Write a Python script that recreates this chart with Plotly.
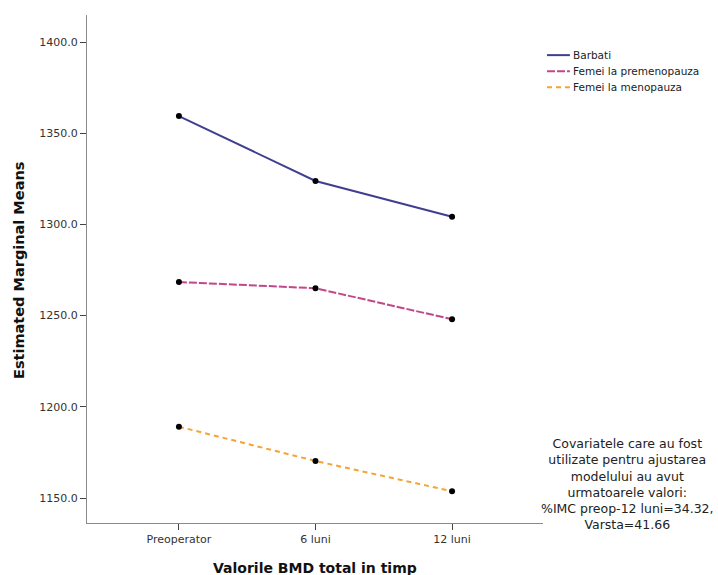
import plotly.graph_objects as go

# Time points and estimated marginal means of total BMD per group
time_points = ["Preoperator", "6 luni", "12 luni"]
barbati = [1359.4, 1323.8, 1304.2]
femei_premenopauza = [1268.4, 1265.0, 1248.0]
femei_menopauza = [1189.1, 1170.3, 1153.7]

series_names = ["Barbati", "Femei la premenopauza", "Femei la menopauza"]
series_values = [barbati, femei_premenopauza, femei_menopauza]
series_colors = ["#3f3f8f", "#c4468a", "#f7a234"]
series_dash = ["solid", "8px,2px", "5px,4px"]

y_ticks = [1150, 1200, 1250, 1300, 1350, 1400]

font_family = "DejaVu Sans, Verdana, sans-serif"

fig = go.Figure()
x_idx = list(range(len(time_points)))
for name, vals, col, dash in zip(series_names, series_values, series_colors, series_dash):
    fig.add_trace(go.Scatter(
        x=x_idx, y=vals, name=name, mode="lines+markers",
        line=dict(color=col, width=2, dash=dash),
        marker=dict(color="black", size=6),
        showlegend=False,
    ))

# Legend drawn as line samples with text labels
legend_top = 0.921
legend_step = 0.0315
for i, (name, col, dash) in enumerate(zip(series_names, series_colors, series_dash)):
    yy = legend_top - i * legend_step
    fig.add_shape(type="line", xref="paper", yref="paper",
                  x0=1.0088, x1=1.059, y0=yy, y1=yy,
                  line=dict(color=col, width=2, dash=dash))
    fig.add_annotation(xref="paper", yref="paper", x=1.062, y=yy,
                       text=name, showarrow=False, xanchor="left", yanchor="middle",
                       font=dict(family=font_family, size=10.5, color="#222"))

# Covariate note
fig.add_annotation(
    xref="paper", yref="paper", x=1.185, y=0.0758,
    text=("Covariatele care au fost<br>utilizate pentru ajustarea<br>modelului au avut<br>"
          "urmatoarele valori:<br>%IMC preop-12 luni=34.32,<br>Varsta=41.66"),
    showarrow=False, xanchor="center", yanchor="middle", align="center",
    font=dict(family=font_family, size=12.5, color="#222"),
)

# Axis titles
fig.add_annotation(
    xref="paper", yref="paper", x=0.5, y=0, yshift=-45,
    text="<b>Valorile BMD total in timp</b>", showarrow=False,
    xanchor="center", yanchor="middle",
    font=dict(family=font_family, size=14, color="#111"),
)
fig.add_annotation(
    xref="paper", yref="paper", x=0, xshift=-68, y=0.5, yshift=-2,
    text="<b>Estimated Marginal Means</b>", showarrow=False, textangle=-90,
    xanchor="center", yanchor="middle",
    font=dict(family=font_family, size=14.5, color="#111"),
)

axis_color = "#8a8a8a"
fig.update_layout(
    width=718, height=575,
    margin=dict(l=87, r=175, t=15, b=52),
    paper_bgcolor="white", plot_bgcolor="white",
    font=dict(family=font_family, size=11, color="#333"),
    xaxis=dict(
        tickmode="array", tickvals=x_idx, ticktext=time_points,
        range=[-0.673, 2.666], showgrid=False, zeroline=False,
        showline=True, linecolor=axis_color, linewidth=1,
        ticks="outside", ticklen=6, tickcolor="#444",
        tickfont=dict(size=11, color="#333"), automargin=False,
    ),
    yaxis=dict(
        tickmode="array", tickvals=y_ticks, tickformat=".1f",
        range=[1136.3, 1414.8], showgrid=False, zeroline=False,
        showline=True, linecolor=axis_color, linewidth=1,
        ticks="outside", ticklen=6, tickcolor="#444",
        tickfont=dict(size=11, color="#333"), automargin=False,
    ),
)

fig.write_html("out.html")
